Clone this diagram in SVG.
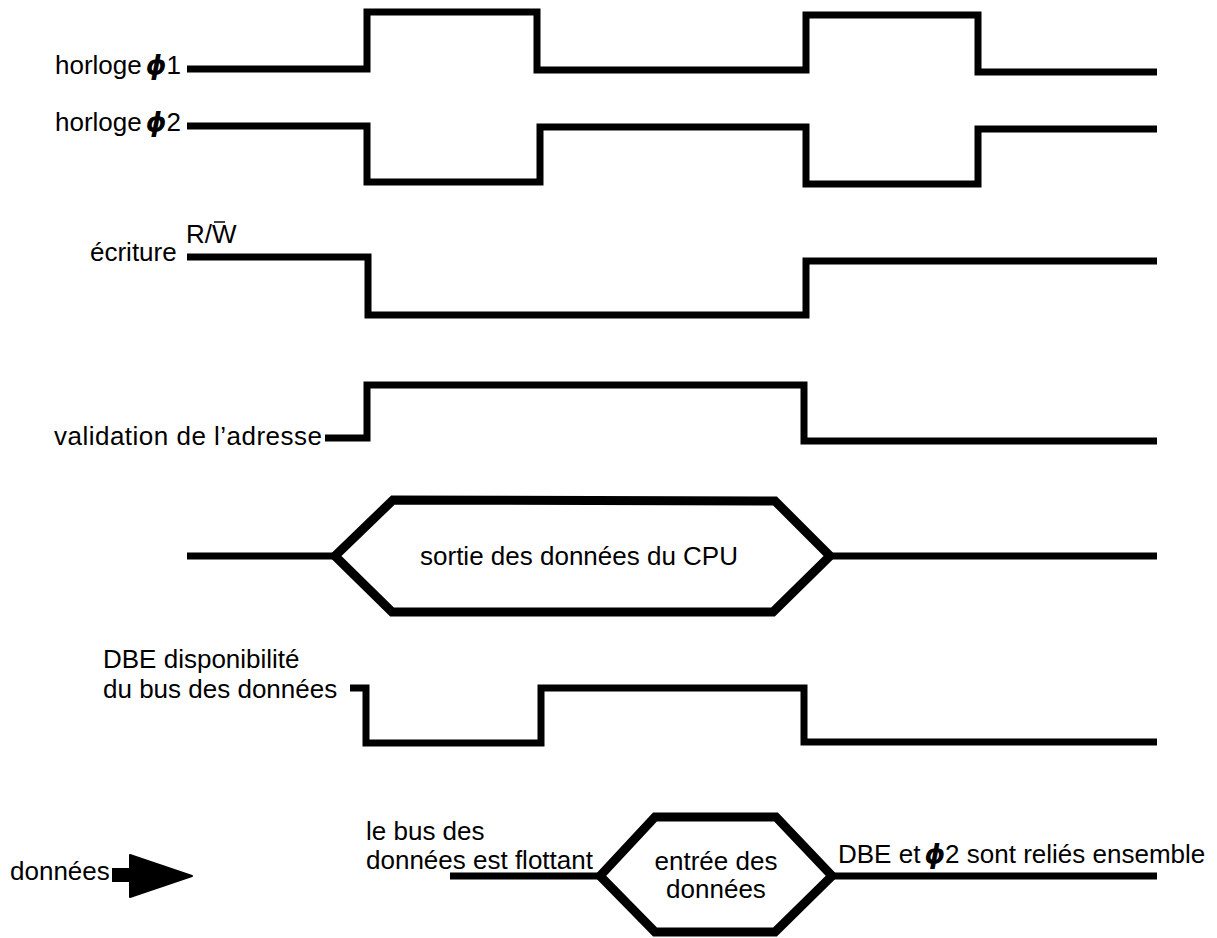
<svg xmlns="http://www.w3.org/2000/svg" width="1217" height="938" viewBox="0 0 1217 938">
  <style>
    .sig { fill: none; stroke: #000; stroke-width: 7; stroke-linejoin: miter; stroke-linecap: butt; }
    .hex { fill: none; stroke: #000; stroke-width: 9; stroke-linejoin: miter; }
    .lbl { font-family: "Liberation Sans", Arial, sans-serif; font-size: 26px; fill: #000; }
    .phi { font-family: "DejaVu Sans", "Liberation Sans", sans-serif; font-weight: bold; font-style: italic; }
  </style>
  <rect width="1217" height="938" fill="#fff"/>

  <!-- signal labels -->
  <g id="label-phi1">
    <text class="lbl" x="55" y="74">horloge<tspan class="phi" dx="4">ϕ</tspan>1</text>
  </g>
  <g id="label-phi2">
    <text class="lbl" x="55" y="131">horloge<tspan class="phi" dx="4">ϕ</tspan>2</text>
  </g>
  <g id="label-rw">
    <text class="lbl" x="90" y="261">écriture</text>
    <text class="lbl" x="186" y="243" font-size="22">R/W</text>
    <line x1="214" y1="222" x2="225" y2="222" stroke="#000" stroke-width="1.5"/>
  </g>
  <g id="label-valid">
    <text class="lbl" x="54" y="445" textLength="268" lengthAdjust="spacing">validation de l’adresse</text>
  </g>
  <g id="label-dbe">
    <text class="lbl" x="103" y="668">DBE disponibilité</text>
    <text class="lbl" x="103" y="698">du bus des données</text>
  </g>
  <g id="label-data">
    <text class="lbl" x="10" y="880">données</text>
    <rect x="112" y="868" width="20" height="14" fill="#000"/>
    <polygon points="130,855 192,876 130,897" fill="#000" stroke="#000" stroke-width="2" stroke-linejoin="round"/>
  </g>
  <g id="label-float">
    <text class="lbl" x="366" y="840">le bus des</text>
    <text class="lbl" x="366" y="869">données est flottant</text>
  </g>
  <g id="label-tied">
    <text class="lbl" x="838" y="863">DBE et<tspan class="phi" dx="4">ϕ</tspan>2 sont reliés ensemble</text>
  </g>

  <!-- hexagon nodes -->
  <g id="node-cpu-out">
    <polygon class="hex" points="335,556 393,500 775,501 830,556 773,612 392,612"/>
    <text class="lbl" x="579" y="565" text-anchor="middle">sortie des données du CPU</text>
  </g>
  <g id="node-data-in">
    <polygon class="hex" points="600,876 655,817 776,817 832,876 775,932 655,932" stroke-width="11"/>
    <text class="lbl" x="716" y="870" text-anchor="middle" font-size="25">entrée des</text>
    <text class="lbl" x="716" y="898" text-anchor="middle" font-size="25">données</text>
  </g>

  <!-- waveforms -->
  <g id="connectors">
    <path class="sig" d="M187,69 H367 V12 H537 V70 H806 V15 H978 V72 H1157"/>
    <path class="sig" d="M187,126 H367 V182 H540 V127 H806 V184 H978 V129 H1157"/>
    <path class="sig" d="M187,257 H368 V315 H806 V261 H1157"/>
    <path class="sig" d="M325,438 H367 V385 H804 V441 H1157"/>
    <path class="sig" d="M187,556 H335"/>
    <path class="sig" d="M830,556 H1157"/>
    <path class="sig" d="M350,688 H366 V743 H541 V688 H804 V742 H1157"/>
    <path class="sig" d="M450,876 H600"/>
    <path class="sig" d="M832,876 H1157"/>
  </g>
</svg>
